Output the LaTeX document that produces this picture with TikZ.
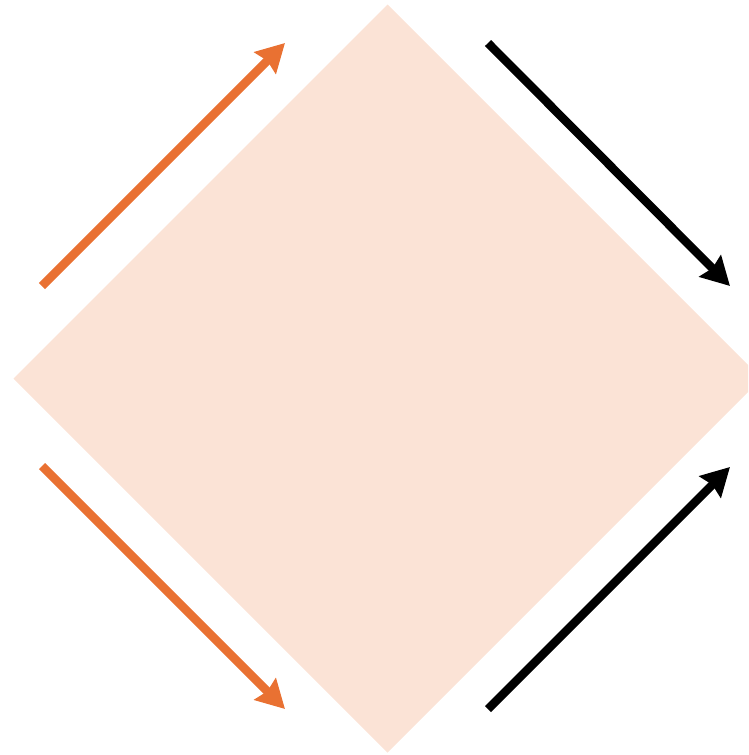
\documentclass[tikz,border=0pt]{standalone}
\usetikzlibrary{arrows.meta}
\definecolor{accorange}{HTML}{E97132}
\definecolor{diamondfill}{HTML}{FBE3D6}
\tikzset{
  flow/.style={line width=8.5pt, -{Stealth[length=28pt, width=30pt, inset=3pt]}},
  orangeflow/.style={flow, draw=accorange, color=accorange},
  blackflow/.style={flow, draw=black},
}
\begin{document}
\begin{tikzpicture}[x=1pt, y=-1pt]
\useasboundingbox (0,0) rectangle (748,755);
\clip (0,0) rectangle (748,755);
\fill[diamondfill] (387.5,4.5) -- (761.5,378.5) -- (387.5,752.5) -- (13.5,378.5) -- cycle;
\coordinate (o1s) at (42,286);
\coordinate (o1e) at (285,43);
\coordinate (o2s) at (42,466);
\coordinate (o2e) at (285,709);
\coordinate (b1s) at (488,43);
\coordinate (b1e) at (730,286);
\coordinate (b2s) at (488,709);
\coordinate (b2e) at (730,467);
\draw[orangeflow] (o1s) -- (o1e);
\draw[orangeflow] (o2s) -- (o2e);
\draw[blackflow] (b1s) -- (b1e);
\draw[blackflow] (b2s) -- (b2e);
\end{tikzpicture}
\end{document}
